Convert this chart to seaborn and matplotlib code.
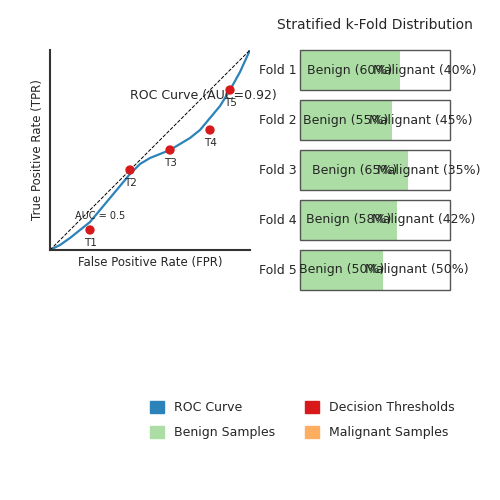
import matplotlib
matplotlib.use("Agg")
import matplotlib.pyplot as plt
import seaborn as sns
from matplotlib.patches import Patch, Rectangle

sns.set_style("white")

roc_fpr = [0, 0.05, 0.1, 0.15, 0.2, 0.25, 0.3, 0.35, 0.4, 0.45, 0.5, 0.55, 0.6, 0.65, 0.7, 0.75,
           0.8, 0.85, 0.9, 0.95, 1.0]
roc_tpr = [0, 0.025, 0.06, 0.1, 0.14, 0.2, 0.26, 0.32, 0.38, 0.43, 0.46, 0.48, 0.5, 0.53, 0.56,
           0.6, 0.66, 0.72, 0.8, 0.89, 1.0]
thr_names = ["T1", "T2", "T3", "T4", "T5"]
thr_fpr = [0.2, 0.4, 0.6, 0.8, 0.9]
thr_tpr = [0.1, 0.4, 0.5, 0.6, 0.8]
folds = ["Fold 1", "Fold 2", "Fold 3", "Fold 4", "Fold 5"]
benign_pct = [60, 55, 65, 58, 50]

c_roc, c_thr, c_ben, c_mal = "#2b83ba", "#d7191c", "#abdda4", "#fdae61"

fig = plt.figure(figsize=(5, 5), dpi=100)

# ROC panel
ax = fig.add_axes([0.1, 0.5, 0.4, 0.4])
sns.lineplot(x=roc_fpr, y=roc_tpr, ax=ax, color=c_roc, lw=1.6)
ax.plot([0, 1], [0, 1], "k--", lw=0.7)
sns.scatterplot(x=thr_fpr, y=thr_tpr, ax=ax, color=c_thr, s=45, zorder=5, edgecolor="none")
for n, x, y in zip(thr_names, thr_fpr, thr_tpr):
    ax.text(x, y - 0.04, n, ha="center", va="top", fontsize=7.5)
ax.text(0.4, 0.77, "ROC Curve (AUC=0.92)", fontsize=9, va="center")
ax.text(0.125, 0.17, "AUC = 0.5", fontsize=7, va="center")
ax.set_xlim(0, 1)
ax.set_ylim(0, 1)
ax.set_xticks([])
ax.set_yticks([])
ax.set_xlabel("False Positive Rate (FPR)", fontsize=8.5)
ax.set_ylabel("True Positive Rate (TPR)", fontsize=8.5)
sns.despine(ax=ax)
for s in ("left", "bottom"):
    ax.spines[s].set_color("#333333")
    ax.spines[s].set_linewidth(1.5)

# k-fold panel
ax2 = fig.add_axes([0.6, 0.42, 0.3, 0.48])
for i, (f, b) in enumerate(zip(folds, benign_pct)):
    y = (4 - i) * 1.25
    bw = b / 100
    ax2.add_patch(Rectangle((0, y), bw, 1, facecolor=c_ben, edgecolor="none"))
    ax2.add_patch(Rectangle((0, y), 0.9, 1, facecolor="none", edgecolor="#555555", lw=1,
                            clip_on=False))
    ax2.text(bw / 2, y + 0.5, f"Benign ({b}%)", ha="center", va="center", fontsize=9)
    ax2.text(bw + (0.9 - bw) / 2, y + 0.5, f"Malignant ({100 - b}%)",
             ha="center", va="center", fontsize=9)
    ax2.text(-0.02, y + 0.5, f, ha="right", va="center", fontsize=9)
ax2.set_xlim(0, 0.9)
ax2.set_ylim(0, 6.0)
ax2.axis("off")
fig.text(0.75, 0.95, "Stratified k-Fold Distribution", ha="center", va="center", fontsize=10)

handles = [Patch(color=c_roc, label="ROC Curve"), Patch(color=c_ben, label="Benign Samples"),
           Patch(color=c_thr, label="Decision Thresholds"), Patch(color=c_mal, label="Malignant Samples")]
fig.legend(handles=handles, ncol=2, frameon=False, loc="center", bbox_to_anchor=(0.605, 0.16),
           fontsize=9, handlelength=1.1, handleheight=1.1, columnspacing=2.4, labelspacing=0.9)

fig.savefig("out.png", dpi=100)
